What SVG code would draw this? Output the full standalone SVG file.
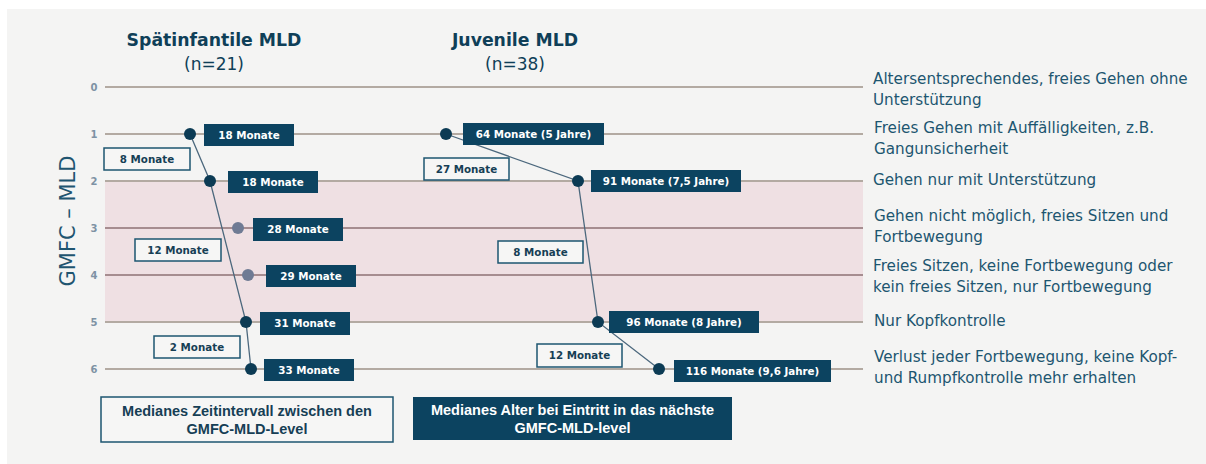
<svg xmlns="http://www.w3.org/2000/svg" width="1206" height="464" viewBox="0 0 1206 464">
<style>
.bg{fill:#f4f4f3}
.lvl{stroke:#b3aaa2;stroke-width:2}
.lvlp{stroke:#a68d90;stroke-width:2}
.num{font-family:"DejaVu Sans",sans-serif;font-size:10px;font-weight:bold;fill:#7e92a4;text-anchor:middle}
.title{font-family:"DejaVu Sans",sans-serif;font-size:17.3px;font-weight:bold;fill:#0f3f58;text-anchor:middle}
.sub{font-family:"DejaVu Sans",sans-serif;font-size:17px;fill:#0f3f58;text-anchor:middle}
.desc{font-family:"DejaVu Sans",sans-serif;font-size:15.2px;fill:#1d5670}
.dbox{fill:#0c4360}
.wbox{fill:#f6f6f5;stroke:#1d5570;stroke-width:1.5}
.dtxt{font-family:"DejaVu Sans",sans-serif;font-size:10.3px;font-weight:bold;fill:#ffffff;text-anchor:middle}
.wtxt{font-family:"DejaVu Sans",sans-serif;font-size:10.3px;font-weight:bold;fill:#163f55;text-anchor:middle}
.leg{font-family:"Liberation Sans",Arial,sans-serif;font-size:14.5px;font-weight:bold;text-anchor:middle}
.conn{fill:none;stroke:#4c687d;stroke-width:1.3}
.dot{fill:#0c3b54}
.gdot{fill:#6f7b94}
</style>
<rect x="7" y="9" width="1199" height="455" class="bg"/>
<rect x="105" y="181" width="758" height="141" fill="#efe0e3"/>
<g id="levels">
<line x1="105" y1="87" x2="863" y2="87" class="lvl"/>
<line x1="105" y1="134" x2="863" y2="134" class="lvl"/>
<line x1="105" y1="181" x2="863" y2="181" class="lvl"/>
<line x1="105" y1="228" x2="863" y2="228" class="lvlp"/>
<line x1="105" y1="275" x2="863" y2="275" class="lvlp"/>
<line x1="105" y1="322" x2="863" y2="322" class="lvl"/>
<line x1="105" y1="369" x2="863" y2="369" class="lvl"/>
<text x="94" y="91" class="num">0</text>
<text x="94" y="138" class="num">1</text>
<text x="94" y="185" class="num">2</text>
<text x="94" y="232" class="num">3</text>
<text x="94" y="279" class="num">4</text>
<text x="94" y="326" class="num">5</text>
<text x="94" y="373" class="num">6</text>
</g>
<text transform="translate(75,221) rotate(-90)" font-family="DejaVu Sans, sans-serif" font-size="21" fill="#1f5570" text-anchor="middle">GMFC – MLD</text>
<g id="titles">
<text x="214" y="46" class="title">Spätinfantile MLD</text>
<text x="214" y="70" class="sub">(n=21)</text>
<text x="515" y="46" class="title">Juvenile MLD</text>
<text x="515" y="70" class="sub">(n=38)</text>
</g>
<g id="descriptions">
<text x="873" y="84" class="desc">Altersentsprechendes, freies Gehen ohne</text>
<text x="873" y="105" class="desc">Unterstützung</text>
<text x="874" y="133" class="desc">Freies Gehen mit Auffälligkeiten, z.B.</text>
<text x="874" y="154" class="desc">Gangunsicherheit</text>
<text x="873" y="185" class="desc">Gehen nur mit Unterstützung</text>
<text x="874" y="221" class="desc">Gehen nicht möglich, freies Sitzen und</text>
<text x="874" y="242" class="desc">Fortbewegung</text>
<text x="873" y="271" class="desc">Freies Sitzen, keine Fortbewegung oder</text>
<text x="873" y="292" class="desc">kein freies Sitzen, nur Fortbewegung</text>
<text x="874" y="326" class="desc">Nur Kopfkontrolle</text>
<text x="874" y="362" class="desc">Verlust jeder Fortbewegung, keine Kopf-</text>
<text x="874" y="383" class="desc">und Rumpfkontrolle mehr erhalten</text>
</g>
<g id="connectors">
<polyline class="conn" points="190,134 210,181 246,322 251,369"/>
<polyline class="conn" points="446,134 578,181 598,322 659,369"/>
</g>
<g id="late-infantile">
<circle cx="190" cy="134" r="6" class="dot"/>
<circle cx="210" cy="181" r="6" class="dot"/>
<circle cx="238" cy="228" r="6" class="gdot"/>
<circle cx="248" cy="275" r="6" class="gdot"/>
<circle cx="246" cy="322" r="6" class="dot"/>
<circle cx="251" cy="369" r="6" class="dot"/>
<g id="li-l1"><rect x="204" y="124" width="90" height="22" class="dbox"/><text x="249" y="139" class="dtxt">18 Monate</text></g>
<g id="li-i1"><rect x="104" y="148" width="86" height="22" class="wbox"/><text x="147" y="163" class="wtxt">8 Monate</text></g>
<g id="li-l2"><rect x="228" y="171" width="90" height="22" class="dbox"/><text x="273" y="186" class="dtxt">18 Monate</text></g>
<g id="li-l3"><rect x="253" y="218" width="90" height="23" class="dbox"/><text x="298" y="233" class="dtxt">28 Monate</text></g>
<g id="li-i2"><rect x="135" y="239" width="86" height="22" class="wbox"/><text x="178" y="254" class="wtxt">12 Monate</text></g>
<g id="li-l4"><rect x="266" y="265" width="90" height="22" class="dbox"/><text x="311" y="280" class="dtxt">29 Monate</text></g>
<g id="li-l5"><rect x="260" y="312" width="90" height="23" class="dbox"/><text x="305" y="327" class="dtxt">31 Monate</text></g>
<g id="li-i3"><rect x="154" y="336" width="86" height="22" class="wbox"/><text x="197" y="351" class="wtxt">2 Monate</text></g>
<g id="li-l6"><rect x="264" y="359" width="90" height="22" class="dbox"/><text x="309" y="374" class="dtxt">33 Monate</text></g>
</g>
<g id="juvenile">
<circle cx="446" cy="134" r="6" class="dot"/>
<circle cx="578" cy="181" r="6" class="dot"/>
<circle cx="598" cy="322" r="6" class="dot"/>
<circle cx="659" cy="369" r="6" class="dot"/>
<g id="ju-l1"><rect x="463" y="123" width="141" height="22" class="dbox"/><text x="533.5" y="138" class="dtxt">64 Monate (5 Jahre)</text></g>
<g id="ju-i1"><rect x="424" y="158" width="85" height="22" class="wbox"/><text x="466.5" y="173" class="wtxt">27 Monate</text></g>
<g id="ju-l2"><rect x="591" y="170" width="150" height="22" class="dbox"/><text x="666" y="185" class="dtxt">91 Monate (7,5 Jahre)</text></g>
<g id="ju-i2"><rect x="498" y="241" width="85" height="22" class="wbox"/><text x="540.5" y="256" class="wtxt">8 Monate</text></g>
<g id="ju-l5"><rect x="609" y="311" width="150" height="22" class="dbox"/><text x="684" y="326" class="dtxt">96 Monate (8 Jahre)</text></g>
<g id="ju-i3"><rect x="537" y="344" width="85" height="23" class="wbox"/><text x="579.5" y="359" class="wtxt">12 Monate</text></g>
<g id="ju-l6"><rect x="674" y="360" width="157" height="22" class="dbox"/><text x="752.5" y="375" class="dtxt">116 Monate (9,6 Jahre)</text></g>
</g>
<g id="legend-interval">
<rect x="101" y="397" width="292" height="45" class="wbox"/>
<text x="247" y="416" class="leg" fill="#163f55">Medianes Zeitintervall zwischen den</text>
<text x="247" y="434" class="leg" fill="#163f55">GMFC-MLD-Level</text>
</g>
<g id="legend-age">
<rect x="413" y="397" width="319" height="43" class="dbox"/>
<text x="572.5" y="415" class="leg" fill="#ffffff">Medianes Alter bei Eintritt in das nächste</text>
<text x="572.5" y="433" class="leg" fill="#ffffff">GMFC-MLD-level</text>
</g>
</svg>
